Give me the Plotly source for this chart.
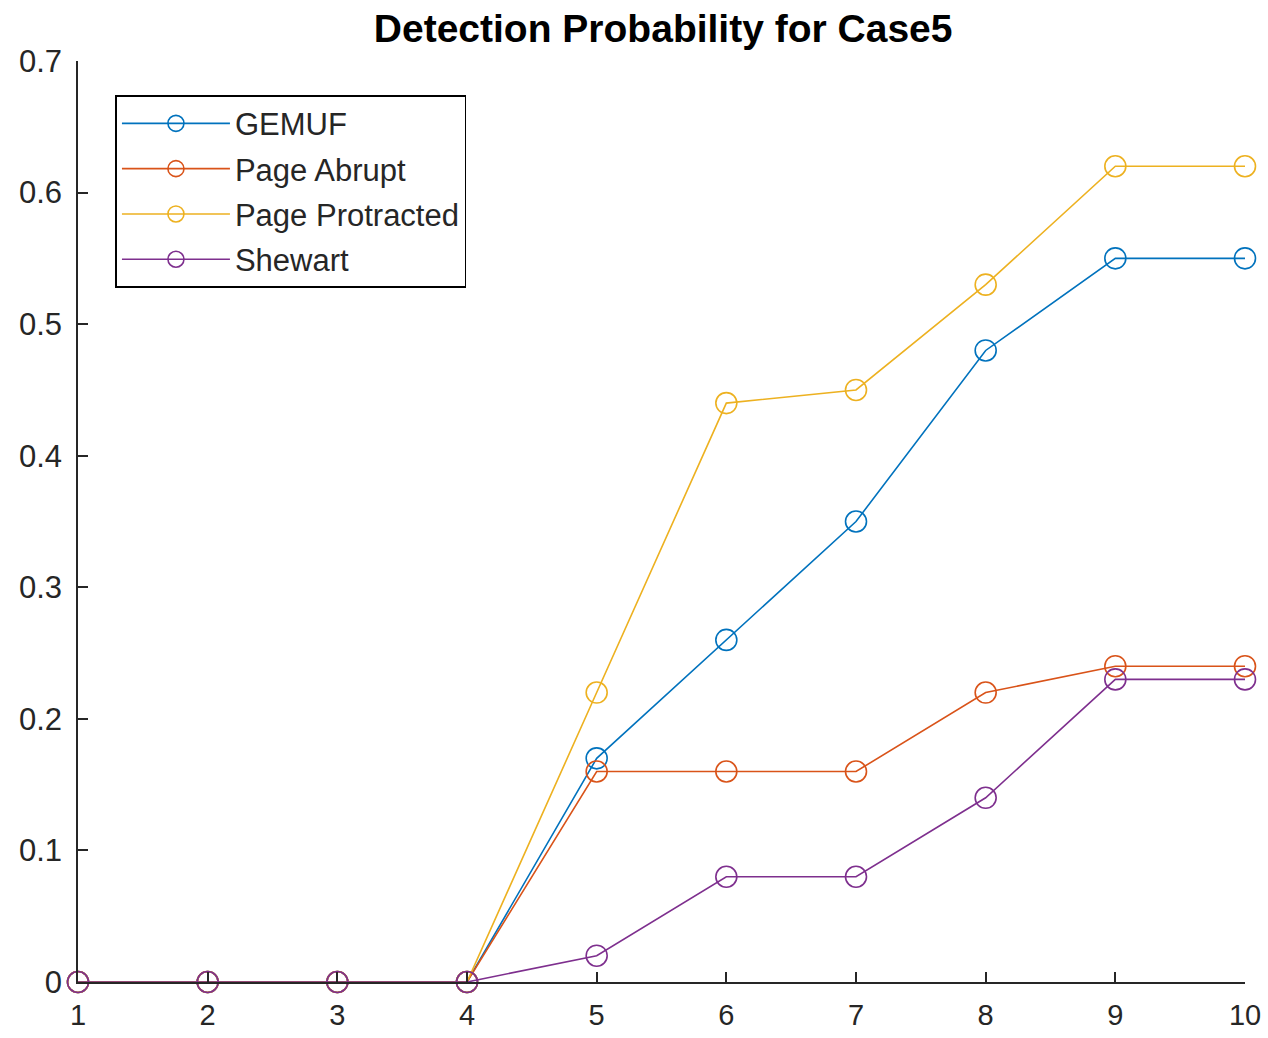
import plotly.graph_objects as go

x_vals = [1, 2, 3, 4, 5, 6, 7, 8, 9, 10]
gemuf = [0, 0, 0, 0, 0.17, 0.26, 0.35, 0.48, 0.55, 0.55]
page_abrupt = [0, 0, 0, 0, 0.16, 0.16, 0.16, 0.22, 0.24, 0.24]
page_protracted = [0, 0, 0, 0, 0.22, 0.44, 0.45, 0.53, 0.62, 0.62]
shewart = [0, 0, 0, 0, 0.02, 0.08, 0.08, 0.14, 0.23, 0.23]
y_ticks = [0, 0.1, 0.2, 0.3, 0.4, 0.5, 0.6, 0.7]
y_tick_labels = ["0", "0.1", "0.2", "0.3", "0.4", "0.5", "0.6", "0.7"]

names = ["GEMUF", "Page Abrupt", "Page Protracted", "Shewart"]
series = [gemuf, page_abrupt, page_protracted, shewart]
colors = ["#0072BD", "#D95319", "#EDB120", "#7E2F8E"]

fig = go.Figure()
for i, (n, s, c) in enumerate(zip(names, series, colors)):
    fig.add_trace(go.Scatter(
        x=x_vals, y=s, name=n, mode="lines+markers",
        line=dict(color=c, width=1.6),
        marker=dict(symbol="circle-open", size=21, color=c, line=dict(width=1.6, color=c)),
        cliponaxis=False, legendgroup=f"g{i}",
    ))

axis_color = "#262626"
fig.update_layout(
    width=1268, height=1038,
    margin=dict(l=78, r=23, t=61, b=56),
    paper_bgcolor="white", plot_bgcolor="white",
    font=dict(family="Liberation Sans, Arial, sans-serif", size=30, color=axis_color),
    title=dict(text="<b>Detection Probability for Case5</b>", x=0.523, xanchor="center",
               y=1 - 28 / 1038, yanchor="middle", yref="container",
               font=dict(size=39, color="black")),
    showlegend=True,
    legend=dict(x=0.032, y=0.963, xanchor="left", yanchor="top",
                bordercolor="black", borderwidth=1.6, bgcolor="white",
                font=dict(size=31, color=axis_color),
                itemwidth=108, tracegroupgap=2),
    xaxis=dict(range=[1, 10], tickvals=x_vals, showgrid=False, zeroline=False,
               showline=True, linecolor=axis_color, linewidth=1.6,
               ticks="inside", ticklen=10, tickwidth=1.6, tickcolor=axis_color,
               ticklabelstandoff=6, automargin=False,
               tickfont=dict(size=29, color=axis_color)),
    yaxis=dict(range=[0, 0.7], tickvals=y_ticks, ticktext=y_tick_labels,
               showgrid=False, zeroline=False,
               showline=True, linecolor=axis_color, linewidth=1.6,
               ticks="inside", ticklen=10, tickwidth=1.6, tickcolor=axis_color,
               ticklabelstandoff=8, automargin=False,
               tickfont=dict(size=31, color=axis_color)),
)

fig.write_html("out.html")
